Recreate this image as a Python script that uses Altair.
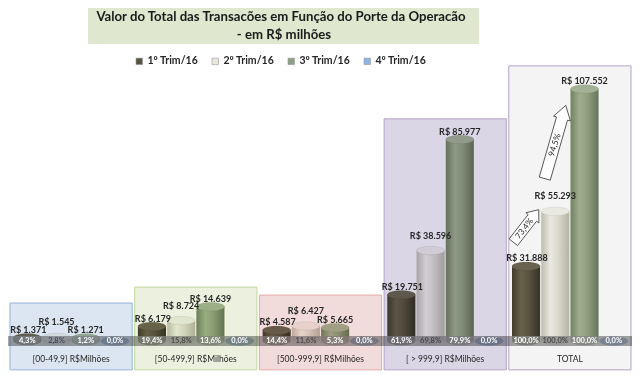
import altair as alt
import pandas as pd

# ---------------- data ----------------
grupos = ["[00-49,9] R$Milhões", "[50-499,9] R$Milhões", "[500-999,9] R$Milhões",
          "[ > 999,9] R$Milhões", "TOTAL"]
series = ["1º Trim/16", "2º Trim/16", "3º Trim/16", "4º Trim/16"]
trim1 = [1371, 6179, 4587, 19751, 31888]
trim2 = [1545, 8724, 6427, 38596, 55293]
trim3 = [1271, 14639, 5665, 85977, 107552]
trim4 = [0, 0, 0, 0, 0]
box_top = [16200, 23000, 19600, 94800, 117400]

title_l1 = "Valor do Total das Transacões em Função do Porte da Operacão"
title_l2 = "- em R$ milhões"

# ---------------- styles ----------------
FONT = "Lato"
W, H = 624, 363
Y_MIN, Y_MAX = -12800, 142100
LABEL_Y = -7700
BOX_BOTTOM = -12300

legend_colors = ["#58533F", "#E9E7DD", "#8FA085", "#8DB4E2"]
top_colors = ["#6E6853", "#F4F3EC", "#A9B99A", "#4A7EBB"]
bar_stops = [
    [("#45402e", 0), ("#6c664f", 0.32), ("#5c5642", 0.6), ("#383425", 1)],
    [("#c6c4b4", 0), ("#f5f4ec", 0.33), ("#e5e3d6", 0.6), ("#bdbbab", 1)],
    [("#768766", 0), ("#a6b794", 0.33), ("#95a684", 0.6), ("#6a7a5b", 1)],
]
box_fills = ["#DCE6F2", "#EBF1DE", "#F2DCDB", "#DAD6E6", "#F4F4F4"]
box_strokes = ["#95B3D7", "#C3D69B", "#E6A9A8", "#B3A2C7", "#B3A2C7"]

ELL = "M-1,0A1,0.3,0,1,1,1,0A1,0.3,0,1,1,-1,0Z"
ARROW_SHORT = "M-0.26,1L-0.26,-0.5L-0.4,-0.5L0,-1L0.4,-0.5L0.26,-0.5L0.26,1Z"
ARROW_LONG = "M-0.15,1L-0.15,-0.64L-0.23,-0.64L0,-1L0.23,-0.64L0.15,-0.64L0.15,1Z"


def fmt_val(v):
    return "R$ " + f"{v:,}".replace(",", ".")


def fmt_pct(p):
    return f"{p * 100:.1f}".replace(".", ",") + "%"


# ---------------- tables ----------------
rows = []
for s, vals in zip(series, [trim1, trim2, trim3, trim4]):
    total = vals[-1]
    for g, v in zip(grupos, vals):
        rows.append({
            "grupo": g, "serie": s, "valor": v, "base": 0,
            "val_label": fmt_val(v),
            "pct_label": fmt_pct(v / total if total else 0.0),
        })
df = pd.DataFrame(rows)

box_df = pd.DataFrame({"grupo": grupos, "topo": box_top, "fundo": [BOX_BOTTOM] * len(grupos),
                       "label_y": [LABEL_Y] * len(grupos)})

arrow_df = pd.DataFrame({
    "grupo": ["TOTAL", "TOTAL"],
    "serie": [series[0], series[1]],
    "y": [(trim1[-1] + trim2[-1]) / 2 + 5500, (trim2[-1] + trim3[-1]) / 2 + 3500],
    "label": [fmt_pct(trim2[-1] / trim1[-1] - 1), fmt_pct(trim3[-1] / trim2[-1] - 1)],
    "idx": [0, 1],
})

# ---------------- scales ----------------
yscale = alt.Scale(domain=[Y_MIN, Y_MAX], nice=False, zero=False)
xscale = alt.Scale(domain=grupos, range=[2, 623], paddingInner=0.02, paddingOuter=0)
xoscale = alt.Scale(domain=series, paddingInner=0.04, paddingOuter=0.11)

X = alt.X("grupo:N", scale=xscale, axis=None)
XO = alt.XOffset("serie:N", scale=xoscale)

base = alt.Chart(df)

layers = []

# bottom ellipses (carry the legend)
layers.append(
    base.mark_point(shape=ELL, size=790, filled=True, opacity=1).encode(
        x=X, xOffset=XO,
        y=alt.Y("base:Q", scale=yscale, axis=None),
        color=alt.Color("serie:N", scale=alt.Scale(domain=series, range=legend_colors),
                        legend=alt.Legend(title=None, orient="none", legendX=126, legendY=48,
                                          direction="horizontal", symbolType="square",
                                          symbolSize=42, labelFont=FONT, labelFontWeight="bold",
                                          labelFontSize=10.5, labelColor="#262626",
                                          columnPadding=11, labelOffset=3,
                                          symbolStrokeColor="#9a9a9a", symbolStrokeWidth=0.6)),
    )
)

# cylinder bodies + tops
for i, s in enumerate(series):
    sub = base.transform_filter(alt.datum.serie == s)
    if i < 3:
        grad = alt.LinearGradient(
            gradient="linear", x1=0, x2=1, y1=0, y2=0,
            stops=[alt.GradientStop(color=c, offset=o) for c, o in bar_stops[i]],
        )
        layers.append(
            sub.mark_bar(color=grad).encode(x=X, xOffset=XO, y="valor:Q", y2="base:Q")
        )
    layers.append(
        sub.mark_point(shape=ELL, size=790, filled=True, opacity=1, color=top_colors[i],
                       stroke="#00000022" if i < 3 else "#3a6ea8", strokeWidth=0.5).encode(
            x=X, xOffset=XO, y="valor:Q")
    )

# floor band
layers.append(
    alt.Chart(pd.DataFrame({"z": [0]})).mark_rule(color="#8c8c8c", strokeWidth=10, opacity=0.78)
    .encode(y="z:Q")
)

# group boxes (multiply overlay)
layers.append(
    alt.Chart(box_df).mark_rect(blend="multiply", strokeWidth=1).encode(
        x=X, y="topo:Q", y2="fundo:Q",
        fill=alt.Fill("grupo:N", scale=alt.Scale(domain=grupos, range=box_fills), legend=None),
        stroke=alt.Stroke("grupo:N", scale=alt.Scale(domain=grupos, range=box_strokes), legend=None),
    )
)

# growth arrows
arrow_base = alt.Chart(arrow_df)
for idx, (path, size, ang, tang, dx) in enumerate([(ARROW_SHORT, 1700, 38, 308, -3),
                                                    (ARROW_LONG, 5800, 16, 287, -3)]):
    sub = arrow_base.transform_filter(alt.datum.idx == idx)
    layers.append(
        sub.mark_point(shape=path, size=size, angle=ang, filled=True, fill="white", opacity=1,
                       stroke="#404040", strokeWidth=0.8, dx=dx).encode(x=X, xOffset=XO, y="y:Q")
    )
    layers.append(
        sub.mark_text(angle=tang, font=FONT, fontSize=8.5, color="#262626", dx=dx,
                      baseline="middle", align="center").encode(x=X, xOffset=XO, y="y:Q", text="label:N")
    )

# value labels
for i, (dx, dy) in enumerate([(1, -8), (0, -15), (0, -8)]):
    sub = base.transform_filter(alt.datum.serie == series[i])
    layers.append(
        sub.mark_text(font=FONT, fontWeight="bold", fontSize=9, color="#262626", dx=dx, dy=dy,
                      baseline="middle").encode(x=X, xOffset=XO, y="valor:Q", text="val_label:N")
    )

# percentage labels on the floor
layers.append(
    base.mark_text(font=FONT, fontWeight="bold", fontSize=7.5, baseline="middle").encode(
        x=X, xOffset=XO, y="base:Q", text="pct_label:N",
        color=alt.condition(alt.datum.serie == series[1], alt.value("#4a4a4a"), alt.value("white")),
    )
)

# group labels
layers.append(
    alt.Chart(box_df).mark_text(font=FONT, fontSize=8.5, color="#262626", baseline="middle").encode(
        x=X, y="label_y:Q", text="grupo:N")
)

# title block
layers.append(
    alt.Chart(pd.DataFrame({"a": [0]})).mark_rect(color="#DFE7CF").encode(
        x=alt.value(80), x2=alt.value(471), y=alt.value(0), y2=alt.value(36))
)
layers.append(
    alt.Chart(pd.DataFrame({"a": [0]})).mark_text(
        text=title_l1, font=FONT, fontWeight="bold", fontSize=13.2, color="#1a1a1a", baseline="middle"
    ).encode(x=alt.value(273), y=alt.value(9))
)
layers.append(
    alt.Chart(pd.DataFrame({"a": [0]})).mark_text(
        text=title_l2, font=FONT, fontWeight="bold", fontSize=13.2, color="#1a1a1a", baseline="middle"
    ).encode(x=alt.value(276), y=alt.value(27))
)

chart = alt.layer(*layers).properties(
    width=W, height=H, padding=0,
    autosize=alt.AutoSizeParams(type="none"),
    background="white",
).configure_view(stroke=None)

chart.save("out.html", embed_options={"renderer": "svg", "actions": False})
